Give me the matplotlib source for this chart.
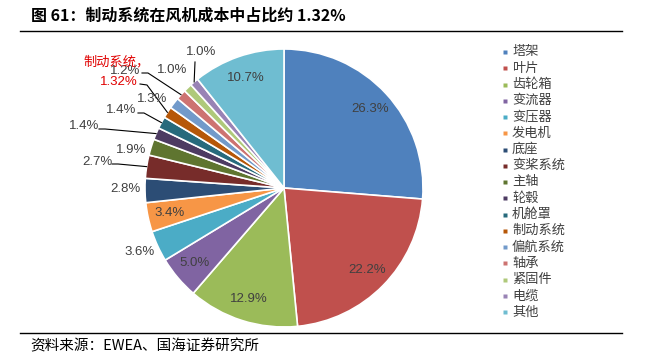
import numpy as np
import matplotlib
matplotlib.use('Agg')
import matplotlib.pyplot as plt

plt.rcParams['font.family'] = ['Noto Sans CJK SC', 'DejaVu Sans']

# cost share of a wind turbine, %
parts = ['塔架', '叶片', '齿轮箱', '变流器', '变压器', '发电机', '底座', '变桨系统',
         '主轴', '轮毂', '机舱罩', '制动系统', '偏航系统', '轴承', '紧固件', '电缆', '其他']
shares = [26.3, 22.2, 12.9, 5.0, 3.6, 3.4, 2.8, 2.7,
          1.9, 1.4, 1.4, 1.32, 1.3, 1.2, 1.0, 1.0, 10.7]
colors = ['#4F81BD', '#C0504D', '#9BBB59', '#8064A2', '#4BACC6', '#F79646',
          '#2C4D75', '#772C2A', '#5F7530', '#4D3B62', '#276A7C', '#B65708',
          '#729ACA', '#CD7371', '#AFC97A', '#9983B5', '#6FBDD1']

title = '图 61：制动系统在风机成本中占比约 1.32%'
source = '资料来源：EWEA、国海证券研究所'
callout_name = '制动系统，'
callout_value = '1.32%'

# label layout (pixels from top-left); inside labels sit on the wedge
inside = [0, 1, 2, 3, 5, 16]
outside = {4: (140, 252), 6: (125, 189), 8: (131, 150), 12: (152, 99), 14: (172, 70)}
# leader labels: label centre, start of the leader line
leaders = {7: ((97, 162), (112, 164)), 9: ((84, 126), (99, 129)),
           10: ((121, 110), (138, 113)), 13: ((125, 71), (142, 73))}

W, H = 646, 362
cx, cy, R = 284, 188, 139
num_font = ['Liberation Sans', 'DejaVu Sans']
num_size = 9.5
gray = '#404040'

fig = plt.figure(figsize=(W / 100, H / 100), dpi=100)
ax = fig.add_axes([0, 0, 1, 1])

wedges, _ = ax.pie(shares, colors=colors, startangle=-90, counterclock=True,
                   center=(cx, cy), radius=R,
                   wedgeprops=dict(edgecolor='white', linewidth=1.2))
ax.set_xlim(0, W)
ax.set_ylim(H, 0)
ax.axis('off')


def edge_point(w, f=1.0):
    a = np.deg2rad((w.theta1 + w.theta2) / 2)
    return cx + f * R * np.cos(a), cy + f * R * np.sin(a)


def pct(x, y, v):
    ax.text(x, y, f'{v:.1f}%', ha='center', va='center',
            fontsize=num_size, color=gray, family=num_font)


for i in inside:
    x, y = edge_point(wedges[i], 0.84)
    pct(x, y, shares[i])

for i, (x, y) in outside.items():
    pct(x, y, shares[i])

for i, ((lx, ly), (sx, sy)) in leaders.items():
    pct(lx, ly, shares[i])
    ex, ey = edge_point(wedges[i])
    ax.plot([sx, sx + 6, ex], [sy, sy, ey], color='black', lw=0.8)

# 电缆 label with a vertical leader
pct(201, 52, shares[15])
ex, ey = edge_point(wedges[15])
ax.plot([195, ex], [62, ey], color='black', lw=0.8)

# red callout for the brake system
ax.text(83, 62, callout_name, ha='left', va='center', fontsize=9.5,
        color='#E00000', zorder=5)
ax.text(138, 82, callout_value, ha='right', va='center', fontsize=num_size,
        color='#E00000', family=num_font, zorder=5)
ex, ey = edge_point(wedges[11])
ax.plot([140, 147, ex], [84, 85, ey], color='black', lw=0.8)

# legend
for k, (name, c) in enumerate(zip(parts, colors)):
    y = 52 + 16.25 * k
    ax.plot(505, y, marker='s', ms=3.2, color=c, mec='none')
    ax.text(512, y, name, ha='left', va='center', fontsize=9.5, color=gray)

# title, rules, source
ax.text(31, 16, title, ha='left', va='center', fontsize=11.5, fontweight='bold')
ax.plot([20, 622], [30.5, 30.5], color='black', lw=1.0)
ax.plot([20, 622], [333, 333], color='black', lw=1.0)
ax.text(30, 346, source, ha='left', va='center', fontsize=10.5, color='black')

fig.savefig('out.png', dpi=100)
